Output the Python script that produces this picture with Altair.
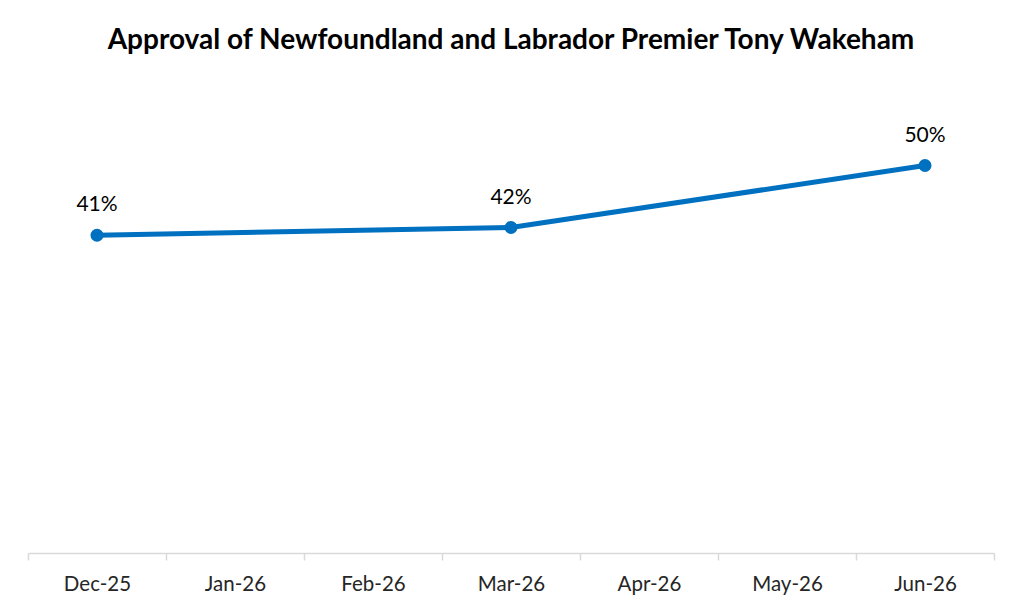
import altair as alt
import pandas as pd

months = ["Dec-25", "Jan-26", "Feb-26", "Mar-26", "Apr-26", "May-26", "Jun-26"]
obs_months = ["Dec-25", "Mar-26", "Jun-26"]
approval = [41, 42, 50]
labels = ["41%", "42%", "50%"]

df = pd.DataFrame({"month": obs_months, "approval": approval, "label": labels})

FONT = "Lato"
BLUE = "#0070C0"

x = alt.X("month:N", sort=months,
          scale=alt.Scale(domain=months, paddingInner=0, paddingOuter=0),
          axis=alt.Axis(title=None, tickBand="extent", labelAngle=0,
                        labelFontSize=20.5, labelColor="#262626", labelFont=FONT,
                        labelPadding=14, tickSize=7, tickColor="#d9d9d9",
                        domainColor="#d9d9d9", domainWidth=1.5, tickWidth=1.5,
                        grid=False))
y = alt.Y("approval:Q", scale=alt.Scale(domain=[0, 60]), axis=None)

base = alt.Chart(df).encode(x=x, y=y)

line = base.mark_line(color=BLUE, strokeWidth=5)
pts = base.mark_point(color=BLUE, filled=True, size=170, opacity=1)
txt = base.mark_text(dy=-30, fontSize=21, font=FONT, color="#000000").encode(text="label:N")

chart = (line + pts + txt).properties(
    width=966, height=465,
    title=alt.TitleParams("Approval of Newfoundland and Labrador Premier Tony Wakeham",
                          fontSize=28, font=FONT, fontWeight="bold", color="#000000",
                          anchor="middle", offset=33),
    autosize=alt.AutoSizeParams(type="none"),
    padding={"left": 20, "top": 80, "right": 10, "bottom": 50},
).configure_view(stroke=None)

chart.save("out.html", embed_options={"renderer": "svg", "actions": False})
